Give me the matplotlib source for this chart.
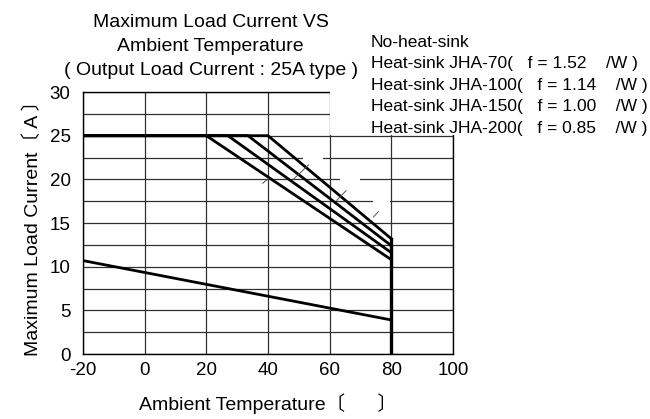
import matplotlib
matplotlib.use("Agg")
import matplotlib.pyplot as plt
from matplotlib.patches import Rectangle

plt.rcParams['font.family'] = ['Liberation Sans', 'Noto Sans CJK JP', 'DejaVu Sans']
plt.rcParams['axes.unicode_minus'] = False

# derating curves (ambient temp, max load current)
no_sink_t = [-20, 80]
no_sink_i = [10.7, 3.9]

sink_names = ["JHA-70", "JHA-100", "JHA-150", "JHA-200"]
sink_theta = ["1.52", "1.14", "1.00", "0.85"]
sink_knee = [20, 27, 33.5, 40]          # temp where derating starts
sink_end = [10.8, 11.6, 12.4, 13.2]      # current at 80 deg
i_max = 25
t_min, t_max = -20, 80

# little leader strokes crossing the curves
leaders = [((38.3, 19.55), (40.1, 20.1)),
           ((48.2, 20.0), (53.1, 21.65)),
           ((62.3, 17.6), (65.3, 18.7)),
           ((74.2, 15.7), (75.8, 16.3))]
# gaps in the grid (label backgrounds): (x0, x1, y)
gaps = [(51.5, 57.8, 22.5), (63.4, 69.8, 20.0), (74.1, 79.7, 17.5)]

fig = plt.figure(figsize=(6.5, 4.19), dpi=100)
ax = fig.add_axes([0.1277, 0.155, 0.5693, 0.6254])

ax.set_xlim(-20, 100)
ax.set_ylim(0, 30)
ax.set_xticks(range(-20, 101, 20))
ax.set_yticks(range(0, 31, 5))
ax.set_yticks([v * 2.5 for v in range(13)], minor=True)
ax.tick_params(which="both", length=0, labelsize=13.5)
ax.tick_params(axis="y", pad=9)
ax.tick_params(axis="x", pad=6)
ax.grid(True, which="both", color="#303030", lw=0.9)
for s in ax.spines.values():
    s.set_color("black")
    s.set_linewidth(1.0)

lw = 2.0
ax.plot(no_sink_t, no_sink_i, color="black", lw=lw, zorder=5)
for knee, end in zip(sink_knee, sink_end):
    ax.plot([t_min, knee, t_max], [i_max, i_max, end], color="black", lw=lw,
            zorder=5, solid_joinstyle="miter")
ax.plot([t_max, t_max], [max(sink_end), 0], color="black", lw=2.4, zorder=5)

for (a, b) in leaders:
    ax.plot([a[0], b[0]], [a[1], b[1]], color="#505050", lw=0.7, zorder=6)

for x0, x1, y in gaps:
    ax.add_patch(Rectangle((x0, y - 0.3), x1 - x0, 0.6, facecolor="white",
                           edgecolor="none", zorder=4))

# white background of the legend block covering the upper right corner
ax.add_patch(Rectangle((60.25, 25.12), 60, 10, facecolor="white", edgecolor="none",
                       zorder=4, clip_on=False))

ax.set_xlabel("Ambient Temperature〔      〕", fontsize=14, labelpad=10)
ax.set_ylabel("Maximum Load Current〔 A 〕", fontsize=14, labelpad=5)

title = ["Maximum Load Current VS", "Ambient Temperature",
         "( Output Load Current : 25A type )"]
for k, line in enumerate(title):
    fig.text(0.324, 1 - (26.7 + 24.2 * k) / 419, line, ha="center",
             va="baseline", fontsize=14)

legend = ["No-heat-sink"] + ["Heat-sink %s(   f = %s    /W )" % (n, t)
                             for n, t in zip(sink_names, sink_theta)]
for k, line in enumerate(legend):
    fig.text(371 / 650, 1 - (46.7 + 21.6 * k) / 419, line, ha="left",
             va="baseline", fontsize=12.5)

fig.savefig("out.png", dpi=100)
